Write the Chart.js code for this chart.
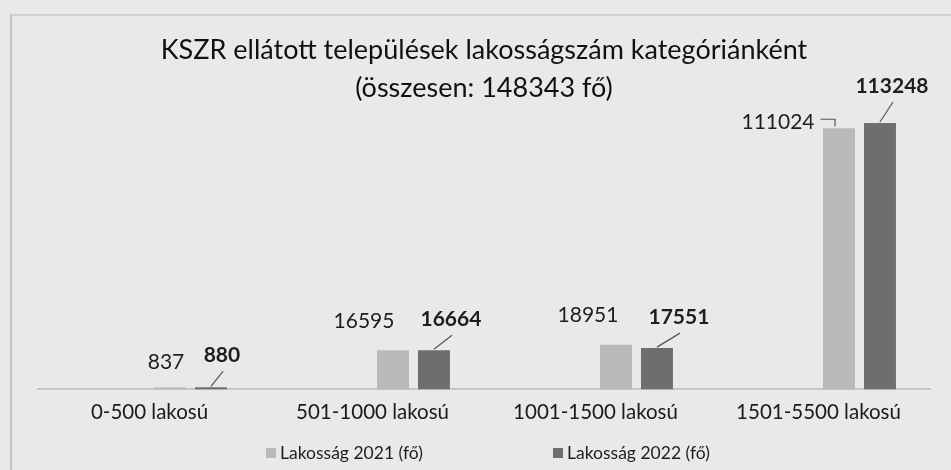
<!DOCTYPE html>
<html>
<head>
<meta charset="utf-8">
<script src="https://cdn.jsdelivr.net/npm/chart.js@4"></script>
<style>
    body { margin: 0; background: #e9e9e7; }
    #wrap { position: relative; width: 951px; height: 470px; overflow: hidden; }
    #frame { position: absolute; left: 10px; top: 14px; right: -5px; bottom: -5px; border-left: 2px solid #c3c3c1; border-top: 2px solid #cfcfcd; }
    #chart { position: absolute; left: 0; top: 0; }
    #legend { position: absolute; left: 0; top: 442px; width: 951px; height: 24px; font: 17.5px Lato, sans-serif; color: #1e1e1e; }
    .legend-item { position: absolute; top: 0; line-height: 22px; white-space: nowrap; }
    .legend-box { display: inline-block; width: 10px; height: 10px; margin-right: 4px; vertical-align: 1px; }
</style>
</head>
<body>
<div id="wrap">
    <div id="frame"></div>
    <canvas id="chart" width="951" height="470"></canvas>
    <div id="legend"></div>
</div>
<script>
const titleLines = ['KSZR ellátott települések lakosságszám kategóriánként', '(összesen: 148343 fő)'];
const categories = ['0-500 lakosú', '501-1000 lakosú', '1001-1500 lakosú', '1501-5500 lakosú'];
const seriesNames = ['Lakosság 2021 (fő)', 'Lakosság 2022 (fő)'];
const pop2021 = [837, 16595, 18951, 111024];
const pop2022 = [880, 16664, 17551, 113248];

const seriesColors = ['#b9b9b9', '#6e6e6e'];

// label placement as moved by hand in the original (px from bar top centre)
const labelStyle = [
    { bold: false, offsets: [[-4, -25], [-29, -29], [-28, -30], [-61, -6]], leader: ['none', 'none', 'none', 'elbow'] },
    { bold: true, offsets: [[11, -32], [17, -31], [22, -31], [12, -37]], leader: ['line', 'line', 'line', 'line'] }
];

// the bar pairs sit right of the category centre, so two empty slots go first
const spacer = () => ({ label: '', data: categories.map(() => null), backgroundColor: 'transparent' });

const valueLabels = {
    id: 'valueLabels',
    afterDatasetsDraw(chart) {
        const ctx = chart.ctx;
        [2, 3].forEach((dsIndex, s) => {
            const meta = chart.getDatasetMeta(dsIndex);
            const style = labelStyle[s];
            const values = chart.data.datasets[dsIndex].data;
            meta.data.forEach((bar, i) => {
                const [dx, dy] = style.offsets[i];
                const lx = bar.x + dx;
                const ly = bar.y + dy;
                const text = String(values[i]);
                ctx.save();
                ctx.font = (style.bold ? 'bold ' : '') + '21px Lato, sans-serif';
                ctx.fillStyle = '#1e1e1e';
                ctx.textAlign = 'center';
                ctx.textBaseline = 'middle';
                ctx.fillText(text, lx, ly);
                ctx.strokeStyle = '#555555';
                ctx.lineWidth = 1.2;
                ctx.beginPath();
                if (style.leader[i] === 'line') {
                    ctx.moveTo(lx + 1, ly + 16);
                    ctx.lineTo(bar.x, bar.y - 1);
                } else if (style.leader[i] === 'elbow') {
                    const w = ctx.measureText(text).width;
                    ctx.moveTo(lx + w / 2 + 6, ly - 3);
                    ctx.lineTo(bar.x - 4, ly - 3);
                    ctx.lineTo(bar.x - 4, bar.y - 2);
                }
                ctx.stroke();
                ctx.restore();
            });
        });
    }
};

const chart = new Chart(document.getElementById('chart'), {
    type: 'bar',
    data: {
        labels: categories,
        datasets: [
            spacer(),
            spacer(),
            { label: seriesNames[0], data: pop2021, backgroundColor: seriesColors[0] },
            { label: seriesNames[1], data: pop2022, backgroundColor: seriesColors[1] }
        ]
    },
    options: {
        responsive: false,
        animation: false,
        layout: { padding: { left: 38, right: 21, top: 0, bottom: 34 } },
        datasets: { bar: { categoryPercentage: 0.735, barPercentage: 0.78 } },
        plugins: {
            legend: { display: false },
            tooltip: { enabled: false },
            title: {
                display: true,
                text: titleLines,
                color: '#111111',
                font: { family: 'Lato', size: 27, weight: 'normal', lineHeight: 1.41 },
                padding: { top: 31, bottom: 0 }
            }
        },
        scales: {
            y: { display: false, min: 0, max: 120000 },
            x: {
                grid: { display: false, drawTicks: false },
                border: { display: true, color: '#c6c6c4', width: 2 },
                ticks: { color: '#1a1a1a', padding: 11, font: { family: 'Lato', size: 20.5 } }
            }
        }
    },
    plugins: [valueLabels]
});

const legend = document.getElementById('legend');
const legendLeft = [266, 553];
seriesNames.forEach((name, s) => {
    legend.innerHTML += `<span class="legend-item" style="left:${legendLeft[s]}px"><span class="legend-box" style="background:${seriesColors[s]}"></span>${name}</span>`;
});
</script>
</body>
</html>
